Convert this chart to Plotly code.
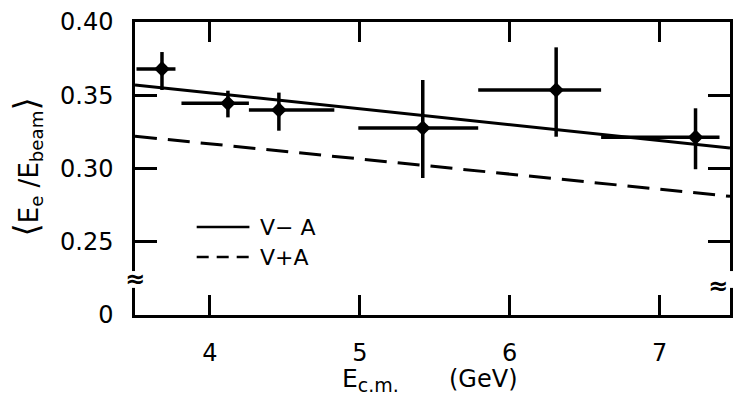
import plotly.graph_objects as go

# ---- data ----
e_cm = [3.68, 4.12, 4.46, 5.42, 6.31, 7.24]
ratio = [0.368, 0.3445, 0.340, 0.3276, 0.3536, 0.3213]
bin_lo = [3.51, 3.81, 4.26, 4.99, 5.79, 6.61]
bin_hi = [3.77, 4.26, 4.83, 5.79, 6.61, 7.40]
err_top = [0.3795, 0.3531, 0.3518, 0.3604, 0.3827, 0.3411]
err_bot = [0.3536, 0.3349, 0.3258, 0.2935, 0.3217, 0.2995]

va_x = [3.5, 7.47]
va_y = [0.357, 0.314]      # V-A
vpa_x = [3.5, 7.47]
vpa_y = [0.322, 0.281]     # V+A

y_tickvals = [0.20, 0.25, 0.30, 0.35, 0.40]
y_ticktext = ["0", "0.25", "0.30", "0.35", "0.40"]
x_tickvals = [4, 5, 6, 7]
x_ticktext = ["4", "5", "6", "7"]

FONT = "DejaVu Sans"

fig = go.Figure()
fig.add_trace(go.Scatter(x=va_x, y=va_y, mode="lines",
                         line=dict(color="black", width=3), name="V\u2212 A",
                         showlegend=False))
fig.add_trace(go.Scatter(x=vpa_x, y=vpa_y, mode="lines",
                         line=dict(color="black", width=3, dash="22px,11px"),
                         name="V+A", showlegend=False))
fig.add_trace(go.Scatter(
    x=e_cm, y=ratio, mode="markers",
    marker=dict(symbol="diamond", size=12, color="black"),
    error_x=dict(type="data", symmetric=False,
                 array=[h - c for h, c in zip(bin_hi, e_cm)],
                 arrayminus=[c - l for l, c in zip(bin_lo, e_cm)],
                 width=0, thickness=3.5, color="black"),
    error_y=dict(type="data", symmetric=False,
                 array=[t - v for t, v in zip(err_top, ratio)],
                 arrayminus=[v - b for b, v in zip(err_bot, ratio)],
                 width=0, thickness=3.5, color="black"),
    showlegend=False))

fig.update_layout(
    width=734, height=402,
    margin=dict(l=135, r=1, t=22, b=87),
    paper_bgcolor="white", plot_bgcolor="white",
    font=dict(family=FONT, color="black"),
    showlegend=False,
)
fig.update_xaxes(range=[3.5, 7.47], tickvals=x_tickvals, ticktext=x_ticktext,
                 ticks="inside", ticklen=20, tickwidth=2.5, tickcolor="black",
                 showline=True, linewidth=2.5, linecolor="black", mirror="ticks",
                 showgrid=False, zeroline=False,
                 tickfont=dict(size=24, family=FONT), ticklabelstandoff=14)
fig.update_yaxes(range=[0.20, 0.40], tickvals=y_tickvals, ticktext=y_ticktext,
                 ticks="inside", ticklen=22, tickwidth=2.5, tickcolor="black",
                 showline=True, linewidth=2.5, linecolor="black", mirror="ticks",
                 showgrid=False, zeroline=False,
                 tickfont=dict(size=24, family=FONT), ticklabelstandoff=14)

# axis-break gaps and marks
for xp in [0, 1]:
    fig.add_shape(type="rect", xref="paper", yref="y", x0=xp - 0.008, x1=xp + 0.008,
                  y0=0.2185, y1=0.2300, fillcolor="white", line=dict(width=0), layer="above")
    fig.add_annotation(xref="paper", yref="y", x=xp, y=0.2245 if xp == 0 else 0.2200,
                       xanchor="center" if xp == 0 else "right", yanchor="middle",
                       text="<b>\u2248</b>", showarrow=False,
                       font=dict(size=24, family=FONT, color="black"))

# legend drawn by hand
fig.add_shape(type="line", xref="paper", yref="paper",
              x0=(197 - 135) / 598, x1=(250 - 135) / 598,
              y0=(315 - 227) / 293, y1=(315 - 227) / 293,
              line=dict(color="black", width=2.5))
fig.add_shape(type="line", xref="paper", yref="paper",
              x0=(197 - 135) / 598, x1=(250 - 135) / 598,
              y0=(315 - 257) / 293, y1=(315 - 257) / 293,
              line=dict(color="black", width=2.5, dash="12px,8px"))
fig.add_annotation(xref="paper", yref="paper", x=(259 - 135) / 598, y=(315 - 227) / 293,
                   xanchor="left", yanchor="middle", showarrow=False,
                   text="V\u2212 A", font=dict(size=22, family=FONT))
fig.add_annotation(xref="paper", yref="paper", x=(259 - 135) / 598, y=(315 - 257) / 293,
                   xanchor="left", yanchor="middle", showarrow=False,
                   text="V+A", font=dict(size=22, family=FONT))

# axis titles
fig.add_annotation(xref="paper", yref="paper", x=(372 - 135) / 598, y=-(380 - 315) / 293,
                   xanchor="center", yanchor="middle", showarrow=False,
                   text="E<sub><span style='font-size:19px'>c.m.</span></sub>",
                   font=dict(size=25, family=FONT))
fig.add_annotation(xref="paper", yref="paper", x=(485 - 135) / 598, y=-(379 - 315) / 293,
                   xanchor="center", yanchor="middle", showarrow=False,
                   text="(GeV)", font=dict(size=24, family=FONT))
fig.add_annotation(xref="paper", yref="paper", x=-(135 - 25) / 598, y=(315 - 167) / 293,
                   xanchor="center", yanchor="middle", showarrow=False, textangle=-90,
                   text="<span style='font-size:34px'>\u27e8</span>E<sub>e</sub> /E<sub>beam</sub>"
                        "<span style='font-size:34px'>\u27e9</span>",
                   font=dict(size=26, family=FONT))

fig.write_html("out.html")
